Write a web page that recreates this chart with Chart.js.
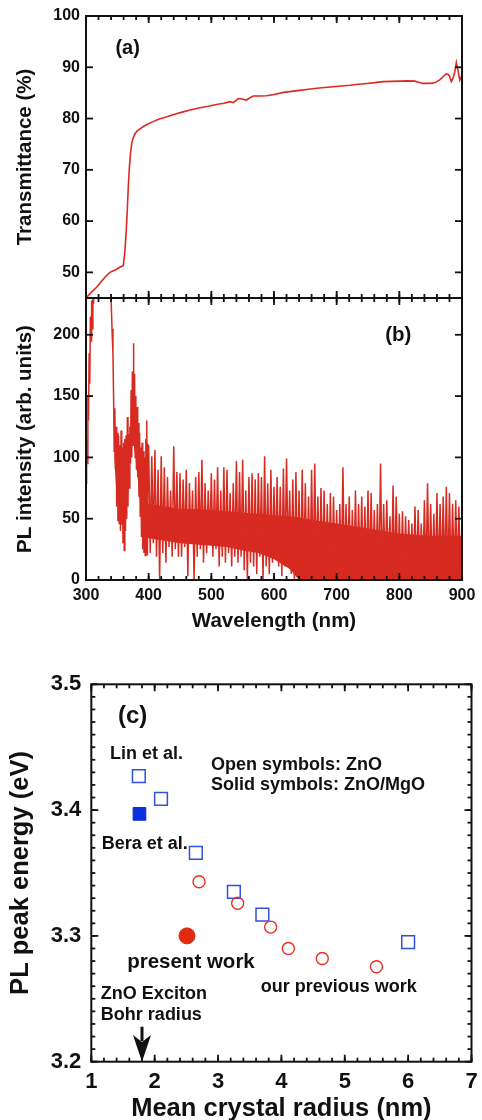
<!DOCTYPE html>
<html>
<head>
<meta charset="utf-8">
<script src="https://cdn.jsdelivr.net/npm/chart.js@4.4.0/dist/chart.umd.min.js"></script>
<style>
  html, body { margin: 0; padding: 0; background: #fff; }
  #wrap { position: relative; width: 482px; height: 1120px; overflow: hidden; }
  canvas { position: absolute; left: 0; }
</style>
</head>
<body>
<div id="wrap">
  <canvas id="chartA" width="482" height="300" style="top:0px"></canvas>
  <canvas id="chartB" width="482" height="350" style="top:290px"></canvas>
  <canvas id="chartC" width="482" height="480" style="top:640px"></canvas>
</div>
<script>
// (a) transmittance
const transWl = [300, 302, 310, 317, 325, 332, 338, 344, 349, 354, 357, 359.5, 362, 364, 366, 367.5, 369, 371, 373, 375.5,
  378, 381, 385, 391, 398, 407, 417, 428, 440, 455, 468, 482, 495, 508, 520, 530, 535, 543, 549, 556,
  561, 567, 577, 588, 600, 615, 628, 641, 655, 668, 681, 694, 708, 721, 735, 748, 761, 774, 788, 801,
  813, 825, 832, 838, 846, 854, 860, 865, 870, 875, 878, 880, 883, 886, 888.5, 891, 894, 896.5, 899, 900];
const transVal = [45.0, 45.3, 46.3, 47.1, 48.3, 49.3, 50.0, 50.3, 50.6, 51.0, 51.2, 51.3, 54.0, 57.6, 62.5, 66.7, 70.0, 73.2, 75.2, 76.3,
  77.0, 77.5, 77.9, 78.4, 78.9, 79.4, 79.9, 80.3, 80.8, 81.3, 81.7, 82.1, 82.4, 82.75, 83.0, 83.3, 83.1, 83.9, 83.8, 83.6,
  84.0, 84.4, 84.4, 84.45, 84.7, 85.1, 85.3, 85.5, 85.7, 85.9, 86.05, 86.2, 86.35, 86.5, 86.7, 86.85, 87.0, 87.2, 87.25, 87.3,
  87.35, 87.3, 87.05, 86.85, 86.85, 86.9, 87.2, 87.6, 88.2, 88.7, 88.6, 88.3, 87.2, 88.0, 89.1, 90.9, 89.1, 87.5, 88.2, 88.0];
const transTicks = [50, 60, 70, 80, 90, 100];
const wlTicks = [300, 400, 500, 600, 700, 800, 900];

// (b) PL spectrum
const plTicks = [0, 50, 100, 150, 200];
const plEarlyWl = [300, 301, 302, 303, 304, 305, 306, 307, 308, 309, 310, 311, 312, 314, 338, 340, 341.5, 343,
  344, 345, 346, 347, 348, 349, 350, 351, 352, 353, 354, 355, 356, 357, 358, 359, 360, 361, 362, 363, 364, 365,
  366, 367, 368, 369, 370, 371, 372, 373, 374, 375, 375.5, 376.5, 377.5, 378.5, 379.5, 380.5, 381.5, 382.5, 383.5,
  384.5, 385.5, 386.5, 387.5, 388.5, 389.5, 390.5, 391.5, 392.5, 393.5, 394.5, 395.5, 396.5, 397, 398, 399];
const plEarlyVal = [79, 115, 95, 150, 130, 185, 160, 215, 195, 228, 205, 235, 225, 250, 250, 230, 205, 185,
  150, 105, 140, 90, 125, 60, 120, 48, 118, 46, 110, 40, 122, 45, 108, 30, 112, 24, 115, 40, 118, 50,
  133, 60, 119, 75, 125, 95, 155, 100, 170, 110, 193, 112, 168, 100, 150, 90, 141, 84, 128,
  68, 120, 52, 108, 35, 112, 25, 105, 22, 100, 20, 115, 22, 130, 20, 110];
const plWl = [400, 405, 410, 415, 420, 425, 430, 435, 440, 445, 450, 455, 460, 465, 470, 475, 480, 485, 490, 495,
  500, 505, 510, 515, 520, 525, 530, 535, 540, 545, 550, 555, 560, 565, 570, 575, 580, 585, 590, 595,
  600, 605, 610, 615, 620, 625, 630, 635, 640, 645, 650, 655, 660, 665, 670, 675, 680, 685, 690, 695,
  700, 705, 710, 715, 720, 725, 730, 735, 740, 745, 750, 755, 760, 765, 770, 775, 780, 785, 790, 795,
  800, 805, 810, 815, 820, 825, 830, 835, 840, 845, 850, 855, 860, 865, 870, 875, 880, 885, 890, 895];
const plHigh = [109, 101, 106, 90, 101, 92, 84, 73, 109, 88, 87, 82, 90, 79, 73, 84, 88, 98, 79, 73,
  87, 82, 92, 73, 92, 90, 71, 79, 97, 88, 98, 73, 84, 87, 82, 87, 84, 101, 79, 90,
  76, 84, 76, 91, 99, 73, 82, 88, 73, 90, 79, 68, 90, 95, 68, 75, 73, 62, 71, 68,
  57, 62, 92, 62, 68, 57, 73, 62, 68, 60, 73, 71, 57, 62, 95, 62, 65, 52, 77, 68,
  54, 56, 52, 49, 46, 60, 57, 46, 65, 79, 62, 54, 71, 62, 68, 76, 71, 62, 65, 60];
const plLow = [22, 30, 19, 0, 22, 14, 27, 19, 25, 19, 19, 27, 3, 30, 0, 19, 25, 14, 22, 30,
  19, 25, 11, 19, 14, 22, 11, 19, 14, 19, 8, 0, 14, 11, 5, 19, 0, 11, 5, 14,
  19, 11, 3, 11, 19, 5, 0, 3, 0, 5, 0, 3, 0, 5, 0, 8, 0, 3, 0, 0,
  2, 0, 0, 4, 0, 0, 0, 3, 0, 0, 0, 2, 0, 0, 0, 0, 3, 0, 0, 0,
  0, 2, 0, 0, 0, 0, 3, 0, 0, 0, 0, 0, 2, 0, 0, 0, 0, 3, 0, 0];
// dense part of the noise band (where the trace fills solid)
const plCoreWl = [345, 350, 355, 360, 365, 370, 375, 380, 385, 390, 395, 400, 425, 450, 475, 500, 525, 550, 575, 600,
  625, 640, 650, 675, 700, 725, 750, 775, 800, 825, 850, 875, 900];
const plCoreTop = [115, 100, 95, 95, 100, 110, 140, 115, 92, 75, 66, 62, 60, 58, 58, 57, 56, 55, 54, 53,
  52, 51, 50, 48, 46, 44, 42, 40, 38, 37, 36, 36, 36];
const plCoreBottom = [100, 60, 55, 50, 70, 95, 115, 95, 70, 45, 36, 34, 32, 30, 29, 28, 27, 24, 22, 17,
  9, 0, 0, 0, 0, 0, 0, 0, 0, 0, 0, 0, 0];

// (c) PL peak energy vs radius
const radiusTicks = [1, 2, 3, 4, 5, 6, 7];
const energyTicks = [3.2, 3.3, 3.4, 3.5];
const openSqX = [1.75, 2.10, 2.65, 3.25, 3.70, 6.00];
const openSqY = [3.427, 3.409, 3.366, 3.335, 3.317, 3.295];
const solidSqX = [1.76];
const solidSqY = [3.397];
const openCircX = [2.70, 3.31, 3.83, 4.11, 4.645, 5.50];
const openCircY = [3.343, 3.326, 3.307, 3.290, 3.282, 3.2755];
const solidCircX = [2.51];
const solidCircY = [3.300];

const FONT = '"Liberation Sans", Arial, Helvetica, sans-serif';
const PL_RED = '#d72a20';
Chart.defaults.font.family = FONT;
Chart.defaults.font.weight = 'bold';
Chart.defaults.color = '#111';

const pts = (xs, ys) => xs.map((x, i) => ({ x: x, y: ys[i] }));
const fixTicks = vals => s => { s.ticks = vals.map(v => ({ value: v })); };

function frame(cfg) {
  return {
    id: 'frame',
    afterDraw(chart) {
      const { ctx, chartArea: a } = chart;
      const xs = chart.scales.x, ys = chart.scales.y;
      ctx.save();
      ctx.strokeStyle = '#111';
      ctx.lineWidth = 1.8;
      const seg = (x1, y1, x2, y2) => { ctx.beginPath(); ctx.moveTo(x1, y1); ctx.lineTo(x2, y2); ctx.stroke(); };
      const marks = (scale, step, len, horiz) => {
        const lo = Math.ceil(scale.min / step - 1e-6), hi = Math.floor(scale.max / step + 1e-6);
        for (let i = lo; i <= hi; i++) {
          const p = scale.getPixelForValue(i * step);
          if (horiz) { seg(p, a.top, p, a.top + len); seg(p, a.bottom, p, a.bottom - len); }
          else { seg(a.left, p, a.left + len, p); seg(a.right, p, a.right - len, p); }
        }
      };
      if (cfg.xMinor) marks(xs, cfg.xMinor, 4, true);
      marks(xs, cfg.xMajor, 7, true);
      if (cfg.yMinor) marks(ys, cfg.yMinor, 4, false);
      marks(ys, cfg.yMajor, 7, false);
      ctx.lineWidth = 2;
      ctx.strokeRect(a.left, a.top, a.width, a.height);
      ctx.restore();
    }
  };
}

function notes(items, arrow) {
  return {
    id: 'notes',
    afterDraw(chart) {
      const { ctx } = chart;
      const xs = chart.scales.x, ys = chart.scales.y;
      ctx.save();
      ctx.fillStyle = '#111';
      ctx.textBaseline = 'middle';
      items.forEach(n => {
        ctx.font = 'bold ' + n.size + 'px ' + FONT;
        ctx.textAlign = n.align || 'left';
        ctx.fillText(n.text, xs.getPixelForValue(n.x), ys.getPixelForValue(n.y));
      });
      if (arrow) {
        const px = xs.getPixelForValue(arrow.x);
        const y0 = ys.getPixelForValue(arrow.from), y1 = ys.getPixelForValue(arrow.head), y2 = ys.getPixelForValue(arrow.to);
        ctx.strokeStyle = '#111';
        ctx.lineWidth = 3;
        ctx.beginPath(); ctx.moveTo(px, y0); ctx.lineTo(px, y1 + 6); ctx.stroke();
        ctx.beginPath();
        ctx.moveTo(px, y2);
        ctx.lineTo(px - 9, y1);
        ctx.lineTo(px, y1 + 7);
        ctx.lineTo(px + 9, y1);
        ctx.closePath();
        ctx.fill();
      }
      ctx.restore();
    }
  };
}

function yAxis(min, max, ticks, width, pad, size, title, tsize, tpad, cb) {
  return {
    min: min, max: max,
    afterBuildTicks: fixTicks(ticks),
    afterFit: s => { s.width = width; s.paddingTop = 0; s.paddingBottom = 0; },
    grid: { display: false, drawTicks: false }, border: { display: false },
    ticks: { padding: pad, font: { size: size, weight: 'bold' }, color: '#111', callback: cb || (v => v) },
    title: { display: true, text: title, color: '#111', font: { size: tsize, weight: 'bold', lineHeight: 1.2 }, padding: { top: tpad, bottom: 0 } }
  };
}

function xAxis(min, max, ticks, height, pad, size, title, tsize, tpad) {
  return {
    type: 'linear', min: min, max: max,
    afterBuildTicks: fixTicks(ticks),
    afterFit: s => { s.height = height; s.paddingLeft = 0; s.paddingRight = 0; },
    grid: { display: false, drawTicks: false }, border: { display: false },
    ticks: { padding: pad, autoSkip: false, maxRotation: 0, font: { size: size, weight: 'bold' }, color: '#111' },
    title: { display: true, text: title, color: '#111', font: { size: tsize, weight: 'bold', lineHeight: 1.2 }, padding: { top: 0, bottom: tpad } }
  };
}

const base = { responsive: false, animation: false, devicePixelRatio: 1, plugins: { legend: { display: false }, tooltip: { enabled: false } } };

new Chart(document.getElementById('chartA'), {
  type: 'line',
  data: { datasets: [{ data: pts(transWl, transVal), borderColor: '#dc2a22', borderWidth: 1.6, pointRadius: 0, tension: 0, clip: 0 }] },
  options: Object.assign({}, base, {
    layout: { padding: { left: 0, right: 20, top: 16, bottom: 2 } },
    scales: {
      x: { type: 'linear', min: 300, max: 900, display: false },
      y: yAxis(45, 100, transTicks, 86, 6, 16, 'Transmittance (%)', 20.5, 13)
    }
  }),
  plugins: [frame({ xMajor: 100, xMinor: 20, yMajor: 10 }), notes([{ text: '(a)', x: 366.5, y: 93.7, size: 20, align: 'center' }])]
});

const plPoints = pts(plEarlyWl, plEarlyVal);
plWl.forEach((w, i) => {
  plPoints.push({ x: w, y: plHigh[i] });
  plPoints.push({ x: w + 2.5, y: plLow[i] });
});

new Chart(document.getElementById('chartB'), {
  type: 'line',
  data: {
    datasets: [
      { data: plPoints, borderColor: PL_RED, borderWidth: 1.5, pointRadius: 0, tension: 0, clip: 0, fill: false },
      { data: pts(plCoreWl, plCoreTop), borderWidth: 0, pointRadius: 0, tension: 0, clip: 0, backgroundColor: PL_RED, fill: '+1' },
      { data: pts(plCoreWl, plCoreBottom), borderWidth: 0, pointRadius: 0, tension: 0, clip: 0, fill: false }
    ]
  },
  options: Object.assign({}, base, {
    layout: { padding: { left: 0, right: 20, top: 8, bottom: 0 } },
    scales: {
      x: xAxis(300, 900, wlTicks, 60, 6, 16, 'Wavelength (nm)', 20.5, 6),
      y: yAxis(0, 230, plTicks, 86, 6, 16, 'PL intensity (arb. units)', 20.5, 13)
    }
  }),
  plugins: [frame({ xMajor: 100, xMinor: 20, yMajor: 50 }), notes([{ text: '(b)', x: 798.3, y: 199.8, size: 20.5, align: 'center' }])]
});

new Chart(document.getElementById('chartC'), {
  type: 'scatter',
  data: {
    datasets: [
      { data: pts(openCircX, openCircY), pointStyle: 'circle', pointRadius: 6, borderColor: '#e8321f', borderWidth: 1.4, backgroundColor: 'rgba(255,255,255,0)' },
      { data: pts(solidCircX, solidCircY), pointStyle: 'circle', pointRadius: 8, borderColor: '#e22a10', borderWidth: 1, backgroundColor: '#e22a10' },
      { data: pts(openSqX, openSqY), pointStyle: 'rect', pointRadius: 9, borderColor: '#3050e0', borderWidth: 1.5, backgroundColor: 'rgba(255,255,255,0)' },
      { data: pts(solidSqX, solidSqY), pointStyle: 'rect', pointRadius: 9, borderColor: '#0b2fd8', borderWidth: 1, backgroundColor: '#0b2fd8' }
    ]
  },
  options: Object.assign({}, base, {
    layout: { padding: { left: 0, right: 5, top: 44.3, bottom: 0 } },
    scales: {
      x: xAxis(1, 7, radiusTicks, 58.3, 7, 22, 'Mean crystal radius (nm)', 25.5, -4),
      y: yAxis(3.2, 3.5, energyTicks, 91.3, 10, 22, 'PL peak energy (eV)', 25.5, 6, v => v.toFixed(1))
    }
  }),
  plugins: [frame({ xMajor: 1, xMinor: 0.2, yMajor: 0.1, yMinor: 0.01 }), notes([
    { text: '(c)', x: 1.653, y: 3.4748, size: 24, align: 'center' },
    { text: 'Lin et al.', x: 1.295, y: 3.4444, size: 18 },
    { text: 'Open symbols: ZnO', x: 2.888, y: 3.4359, size: 18 },
    { text: 'Solid symbols: ZnO/MgO', x: 2.888, y: 3.4197, size: 18 },
    { text: 'Bera et al.', x: 1.166, y: 3.373, size: 18 },
    { text: 'present work', x: 1.566, y: 3.279, size: 20.5 },
    { text: 'our previous work', x: 3.675, y: 3.259, size: 18 },
    { text: 'ZnO Exciton', x: 1.151, y: 3.2538, size: 18 },
    { text: 'Bohr radius', x: 1.151, y: 3.2371, size: 18 }
  ], { x: 1.8, from: 3.2278, head: 3.2212, to: 3.2 })]
});
</script>
</body>
</html>
